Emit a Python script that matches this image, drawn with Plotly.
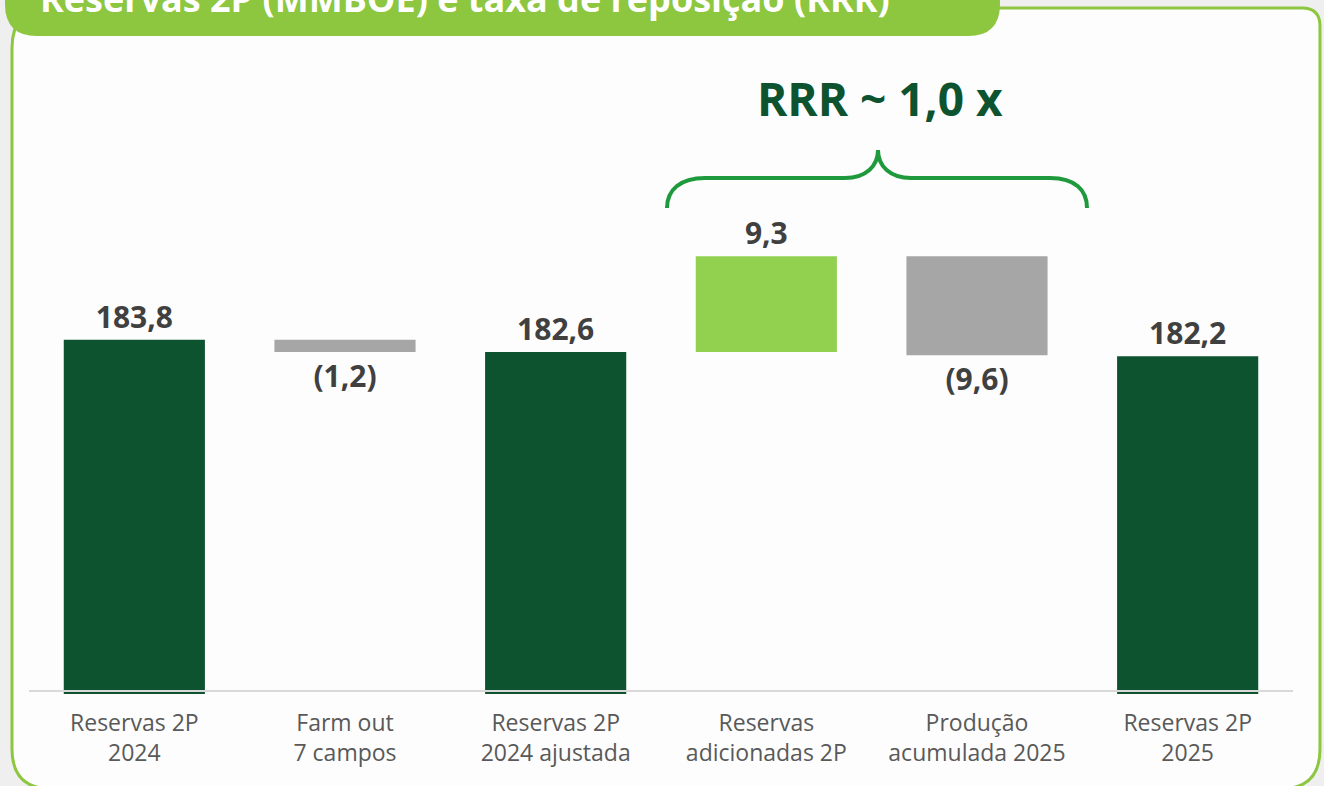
import plotly.graph_objects as go

# ---- data ----
categories = ["Reservas 2P<br>2024", "Farm out<br>7 campos", "Reservas 2P<br>2024 ajustada",
              "Reservas<br>adicionadas 2P", "Produção<br>acumulada 2025", "Reservas 2P<br>2025"]
values = [183.8, -1.2, 182.6, 9.3, -9.6, 182.2]
measures = ["total", "relative", "total", "relative", "relative", "total"]
title_text = "Reservas 2P (MMBOE) e taxa de reposição (RRR)"
rrr_text = "RRR ~ 1,0 x"

DARK = "#0d5330"
LIGHT = "#92d050"
GRAY = "#a6a6a6"

# waterfall bases from the data
bases, colors, texts = [], [], []
level = 0.0
for v, m in zip(values, measures):
    if m == "total":
        bases.append(0)
        level = v
        colors.append(DARK)
        texts.append(f"{v:.1f}".replace(".", ","))
    else:
        bases.append(level)
        level = level + v
        colors.append(LIGHT if v > 0 else GRAY)
        texts.append((f"{v:.1f}" if v > 0 else f"({abs(v):.1f})").replace(".", ","))

# ---- layout geometry (pixels) ----
FW, FH = 1324, 786
L, R_, T, B = 29, 1293, 60, 694
W, H = R_ - L, B - T
px_per_unit = 10.3
y0 = 149.4
y1 = y0 + H / px_per_unit


def px(x):
    return (x - L) / W


def py(y):
    return (B - y) / H


def path(cmds):
    out = []
    for c, pts in cmds:
        s = c
        s += " ".join(f"{px(x):.5f},{py(y):.5f}" for x, y in pts)
        out.append(s)
    return " ".join(out) + ""


fig = go.Figure()
fig.add_trace(go.Bar(
    x=categories, y=values, base=bases,
    marker=dict(color=colors, line=dict(width=0)),
    text=texts, textposition="outside", constraintext="none", cliponaxis=False,
    textfont=dict(family="Open Sans", size=30, color="#404040", weight="bold"),
    hoverinfo="skip", showlegend=False,
))

shapes = []
# outer rounded frame
r = 40
x0f, x1f, y0f, y1f = 12, 1320, 8, 789
frame = path([
    ("M", [(x0f + r, y0f)]), ("L", [(x1f - 18, y0f)]),
    ("Q", [(x1f, y0f), (x1f, y0f + 18)]),
    ("L", [(x1f, y1f - r)]), ("Q", [(x1f, y1f), (x1f - r, y1f)]),
    ("L", [(x0f + r, y1f)]), ("Q", [(x0f, y1f), (x0f, y1f - r)]),
    ("L", [(x0f, y0f + r)]), ("Q", [(x0f, y0f), (x0f + r, y0f)]),
]) + " Z"
shapes.append(dict(type="path", path=frame, xref="paper", yref="paper",
                    fillcolor="#fdfdfd", line=dict(color="#8dc63f", width=3), layer="below"))
# title tab
rt = 32
tab = path([
    ("M", [(5, -20)]), ("L", [(1000, -20)]), ("L", [(1000, 36 - rt)]),
    ("Q", [(1000, 36), (1000 - rt, 36)]), ("L", [(5 + rt, 36)]),
    ("Q", [(5, 36), (5, 36 - rt)]),
]) + " Z"
shapes.append(dict(type="path", path=tab, xref="paper", yref="paper",
                    fillcolor="#8dc63f", line=dict(width=0), layer="below"))
# baseline
shapes.append(dict(type="line", xref="paper", yref="paper", x0=0, x1=1, y0=py(691), y1=py(691),
                   line=dict(color="#d9d9d9", width=2), layer="above"))
# brace
brace = path([
    ("M", [(667, 208)]), ("C", [(667, 190), (680, 178), (705, 178)]),
    ("L", [(845, 178)]), ("C", [(866, 178), (878, 166), (878, 150)]),
    ("C", [(878, 166), (890, 178), (911, 178)]),
    ("L", [(1050, 178)]), ("C", [(1075, 178), (1087, 190), (1087, 208)]),
])
shapes.append(dict(type="path", path=brace, xref="paper", yref="paper",
                   line=dict(color="#1e9a3c", width=4)))

annotations = [
    dict(text=title_text, xref="paper", yref="paper", x=px(38), y=py(-1), xanchor="left",
         yanchor="middle", showarrow=False,
         font=dict(family="Open Sans", size=36, color="white", weight="bold")),
    dict(text=rrr_text, xref="paper", yref="paper", x=px(880), y=py(98), xanchor="center",
         yanchor="middle", showarrow=False,
         font=dict(family="Open Sans", size=46, color=DARK, weight="bold")),
]

fig.update_layout(
    width=FW, height=FH, autosize=False,
    margin=dict(l=L, r=FW - R_, t=T, b=FH - B, pad=0),
    paper_bgcolor="#efefef", plot_bgcolor="rgba(0,0,0,0)",
    bargap=0.33,
    shapes=shapes, annotations=annotations,
    xaxis=dict(type="category", showgrid=False, showline=False, zeroline=False, ticks="",
               tickfont=dict(family="Open Sans", size=23, color="#595959"),
               ticklabelstandoff=13),
    yaxis=dict(range=[y0, y1], visible=False, showgrid=False, zeroline=False),
)

fig.write_html("out.html", config={"displayModeBar": False},
               post_script="document.body.style.margin='0';document.body.style.overflow='hidden';")
